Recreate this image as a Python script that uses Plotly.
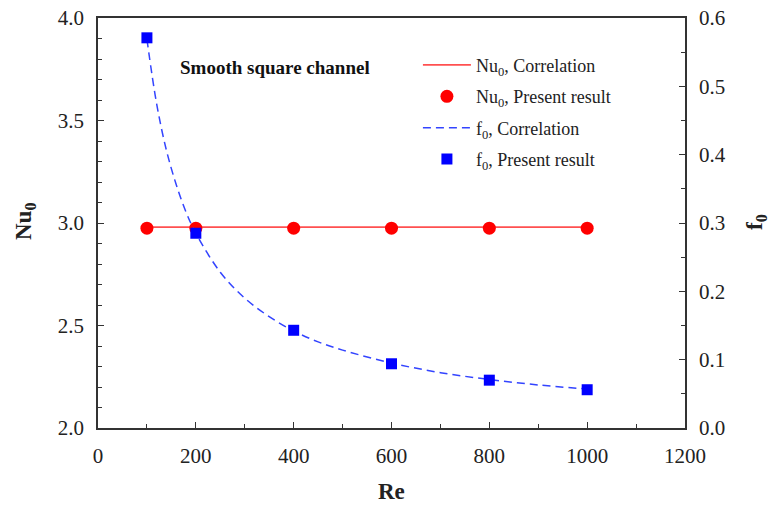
import plotly.graph_objects as go

# Present (CFD) results
re_pts = [100, 200, 400, 600, 800, 1000]
nu_present = [2.975, 2.975, 2.975, 2.975, 2.975, 2.975]
f_present = [0.571, 0.285, 0.143, 0.094, 0.070, 0.056]

# Correlation curves
re_corr_nu = [100, 1000]
nu_corr = [2.98, 2.98]
re_corr_f = [100, 120, 140, 160, 180, 200, 250, 300, 350, 400, 450, 500,
             600, 700, 800, 900, 1000]
f_corr = [0.569, 0.474, 0.406, 0.356, 0.316, 0.285, 0.228, 0.190, 0.163,
          0.142, 0.126, 0.114, 0.095, 0.081, 0.071, 0.063, 0.057]

FONT = "Liberation Serif"
RED = "#ff0000"
BLUE = "#0000ff"
INK = "#222222"

fig = go.Figure()
fig.add_trace(go.Scatter(
    x=re_corr_nu, y=nu_corr, mode="lines", legendgroup="a",
    line=dict(color="#ff5050", width=1.6),
    name="Nu<sub>0</sub>, Correlation"))
fig.add_trace(go.Scatter(
    x=re_pts, y=nu_present, mode="markers", legendgroup="b",
    marker=dict(symbol="circle", size=13, color=RED),
    name="Nu<sub>0</sub>, Present result"))
fig.add_trace(go.Scatter(
    x=re_corr_f, y=f_corr, mode="lines", yaxis="y2", legendgroup="c",
    line=dict(color="#3344ff", width=1.5, dash="8px,5px", shape="spline"),
    name="f<sub>0</sub>, Correlation"))
fig.add_trace(go.Scatter(
    x=re_pts, y=f_present, mode="markers", yaxis="y2", legendgroup="d",
    marker=dict(symbol="square", size=11, color=BLUE),
    name="f<sub>0</sub>, Present result"))

axis_common = dict(
    showline=True, linecolor="#333333", linewidth=1.5,
    ticks="inside", ticklen=6, tickcolor="#333333", tickwidth=1.3,
    showgrid=False, zeroline=False, automargin=False,
    tickfont=dict(family=FONT, size=21, color=INK),
)

W, H = 774, 510
L, R, T, B = 98, 89, 18, 82
pw, ph = W - L - R, H - T - B

fig.update_layout(
    width=W, height=H,
    margin=dict(l=L, r=R, t=T, b=B),
    paper_bgcolor="white", plot_bgcolor="white",
    font=dict(family=FONT, color=INK),
    xaxis=dict(
        range=[0, 1200], dtick=200, mirror=True, ticklabelstandoff=8,
        minor=dict(dtick=100, ticks="inside", ticklen=4, tickcolor="#333333"),
        **axis_common),
    yaxis=dict(
        range=[2.0, 4.0], dtick=0.5, tickformat=".1f", ticklabelstandoff=8,
        minor=dict(dtick=0.1, ticks="inside", ticklen=4, tickcolor="#333333"),
        **axis_common),
    yaxis2=dict(
        range=[0.0, 0.6], dtick=0.1, tickformat=".1f", ticklabelstandoff=8,
        overlaying="y", side="right",
        minor=dict(dtick=0.05, ticks="inside", ticklen=4, tickcolor="#333333"),
        **axis_common),
    legend=dict(
        x=0.545, y=0.93, xanchor="left", yanchor="top",
        bgcolor="rgba(0,0,0,0)", tracegroupgap=5, itemwidth=48,
        font=dict(family=FONT, size=18, color=INK),
    ),
    showlegend=True,
)


def title_at(px, py, text, angle=0):
    """Place an axis title centred on a pixel position."""
    fig.add_annotation(
        x=(px - L) / pw, y=(H - B - py) / ph, xref="paper", yref="paper",
        xanchor="center", yanchor="middle", showarrow=False,
        text=text, textangle=angle,
        font=dict(family=FONT, size=23, color=INK))


title_at(25, 222, "<b>Nu<sub>0</sub></b>", -90)
title_at(392, 492, "<b>Re</b>")
title_at(756, 222, "<b>f<sub>0</sub></b>", -90)

fig.add_annotation(
    x=0.136, y=0.88, xref="paper", yref="paper", xanchor="left", yanchor="middle",
    text="<b>Smooth square channel</b>", showarrow=False,
    font=dict(family=FONT, size=19, color="#111111"))

fig.write_html("out.html")
